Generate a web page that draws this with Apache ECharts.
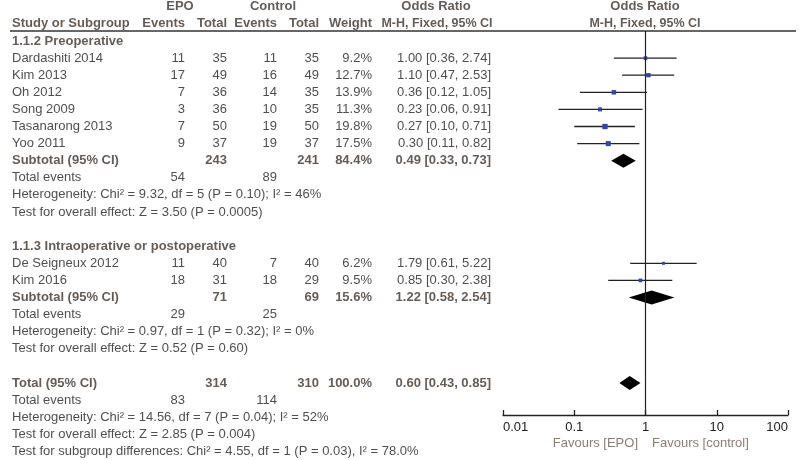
<!DOCTYPE html>
<html>
<head>
<meta charset="utf-8">
<script src="https://cdn.jsdelivr.net/npm/echarts@6/dist/echarts.min.js"></script>
<style>
html,body{margin:0;padding:0;background:#fff}
#main{width:800px;height:460px}
</style>
</head>
<body>
<div id="main"></div>
<script>
// study rows
var studies = ['Dardashiti 2014', 'Kim 2013', 'Oh 2012', 'Song 2009', 'Tasanarong 2013', 'Yoo 2011', 'De Seigneux 2012', 'Kim 2016'];
var studyRows = [1, 2, 3, 4, 5, 6, 13, 14];
var epoEvents = [11, 17, 7, 3, 7, 9, 11, 18];
var epoTotal = [35, 49, 36, 36, 50, 37, 40, 31];
var ctlEvents = [11, 16, 14, 10, 19, 19, 7, 18];
var ctlTotal = [35, 49, 35, 35, 50, 37, 40, 29];
var weights = [9.2, 12.7, 13.9, 11.3, 19.8, 17.5, 6.2, 9.5];
var orVal = [1.00, 1.10, 0.36, 0.23, 0.27, 0.30, 1.79, 0.85];
var ciLow = [0.36, 0.47, 0.12, 0.06, 0.10, 0.11, 0.61, 0.30];
var ciHigh = [2.74, 2.53, 1.05, 0.91, 0.71, 0.82, 5.22, 2.38];

// subgroup / overall rows
var sumNames = ['Subtotal (95% CI)', 'Subtotal (95% CI)', 'Total (95% CI)'];
var sumRows = [7, 15, 20];
var sumEpoTotal = [243, 71, 314];
var sumCtlTotal = [241, 69, 310];
var sumWeight = [84.4, 15.6, 100.0];
var sumOr = [0.49, 1.22, 0.60];
var sumLow = [0.33, 0.58, 0.43];
var sumHigh = [0.73, 2.54, 0.85];
var sumEpoEvents = [54, 29, 83];
var sumCtlEvents = [89, 25, 114];
var hetText = [
	'Heterogeneity: Chi\u00b2 = 9.32, df = 5 (P = 0.10); I\u00b2 = 46%',
	'Heterogeneity: Chi\u00b2 = 0.97, df = 1 (P = 0.32); I\u00b2 = 0%',
	'Heterogeneity: Chi\u00b2 = 14.56, df = 7 (P = 0.04); I\u00b2 = 52%'
];
var effectText = [
	'Test for overall effect: Z = 3.50 (P = 0.0005)',
	'Test for overall effect: Z = 0.52 (P = 0.60)',
	'Test for overall effect: Z = 2.85 (P = 0.004)'
];
var groupNames = ['1.1.2 Preoperative', '1.1.3 Intraoperative or postoperative'];
var groupRows = [0, 12];
var subgroupText = 'Test for subgroup differences: Chi\u00b2 = 4.55, df = 1 (P = 0.03), I\u00b2 = 78.0%';
var tickLabels = ['0.01', '0.1', '1', '10', '100'];

// layout
var ROW0 = 41, ROWH = 17.1, RULE_Y = 31, AXIS_Y = 415;
var col = {name: 12, epoEv: 185, epoTot: 227, ctlEv: 277, ctlTot: 319, weight: 372, orText: 491, orHead: 436, plotHead: 645};
var FONT = '"Liberation Sans", Arial, sans-serif';
var FS = 13;
var TXT = '#222', HEAD = '#3b3530', FAV = '#6e5e50', SQ = '#3344aa';

function rowVal(px) { return (px - ROW0) / ROWH; }
function fmt2(v) { return v.toFixed(2); }
function ciStr(o, l, h) { return fmt2(o) + ' [' + fmt2(l) + ', ' + fmt2(h) + ']'; }

var cells = [];
function cell(x, row, text, align, bold, color, size) {
	cells.push({
		value: [x, row],
		label: {
			formatter: String(text),
			align: align || 'left',
			fontWeight: bold ? 'bold' : 'normal',
			fontSize: size || FS,
			color: color || (bold ? HEAD : TXT)
		}
	});
}

// header
cell(180, -2, 'EPO', 'center', true);
cell(273, -2, 'Control', 'center', true);
cell(col.orHead, -2, 'Odds Ratio', 'center', true);
cell(col.plotHead, -2, 'Odds Ratio', 'center', true);
cell(col.name, -1, 'Study or Subgroup', 'left', true);
cell(col.epoEv, -1, 'Events', 'right', true);
cell(col.epoTot, -1, 'Total', 'right', true);
cell(col.ctlEv, -1, 'Events', 'right', true);
cell(col.ctlTot, -1, 'Total', 'right', true);
cell(col.weight, -1, 'Weight', 'right', true);
cell(col.orHead + 1, -1, 'M-H, Fixed, 95% CI', 'center', true, null, 12.5);
cell(col.plotHead, -1, 'M-H, Fixed, 95% CI', 'center', true, null, 12.5);

for (var g = 0; g < groupNames.length; g++) {
	cell(col.name, groupRows[g], groupNames[g], 'left', true);
}
for (var i = 0; i < studies.length; i++) {
	var r = studyRows[i];
	cell(col.name, r, studies[i]);
	cell(col.epoEv, r, epoEvents[i], 'right');
	cell(col.epoTot, r, epoTotal[i], 'right');
	cell(col.ctlEv, r, ctlEvents[i], 'right');
	cell(col.ctlTot, r, ctlTotal[i], 'right');
	cell(col.weight, r, weights[i].toFixed(1) + '%', 'right');
	cell(col.orText, r, ciStr(orVal[i], ciLow[i], ciHigh[i]), 'right');
}
for (var k = 0; k < sumNames.length; k++) {
	var s = sumRows[k];
	cell(col.name, s, sumNames[k], 'left', true);
	cell(col.epoTot, s, sumEpoTotal[k], 'right', true);
	cell(col.ctlTot, s, sumCtlTotal[k], 'right', true);
	cell(col.weight, s, sumWeight[k].toFixed(1) + '%', 'right', true);
	cell(col.orText, s, ciStr(sumOr[k], sumLow[k], sumHigh[k]), 'right', true);
	cell(col.name, s + 1, 'Total events');
	cell(col.epoEv, s + 1, sumEpoEvents[k], 'right');
	cell(col.ctlEv, s + 1, sumCtlEvents[k], 'right');
	cell(col.name, s + 2, hetText[k]);
	cell(col.name, s + 3, effectText[k]);
}
cell(col.name, 24, subgroupText);
cell(638, 23.55, 'Favours [EPO]', 'right', false, FAV);
cell(652, 23.55, 'Favours [control]', 'left', false, FAV);

var studyData = [];
for (var i = 0; i < studies.length; i++) {
	studyData.push([orVal[i], ciLow[i], ciHigh[i], studyRows[i], weights[i]]);
}
var sumData = [];
for (var k = 0; k < sumNames.length; k++) {
	sumData.push([sumOr[k], sumLow[k], sumHigh[k], sumRows[k]]);
}

var myChart = echarts.init(document.getElementById('main'));
var option = {
	animation: false,
	backgroundColor: '#fff',
	textStyle: {fontFamily: FONT},
	grid: [
		{left: 0, top: 0, width: 800, height: 460},
		{left: 503, right: 12, top: RULE_Y, height: AXIS_Y - RULE_Y}
	],
	xAxis: [
		{gridIndex: 0, type: 'value', min: 0, max: 800, show: false},
		{
			gridIndex: 1, type: 'log', logBase: 10, min: 0.01, max: 100, position: 'bottom',
			axisLine: {show: true, onZero: false, lineStyle: {color: '#222', width: 1.3}},
			axisTick: {show: true, inside: true, length: 5, lineStyle: {color: '#222', width: 1.3}},
			splitLine: {show: false},
			axisLabel: {
				color: TXT, fontSize: FS, fontFamily: FONT, margin: 6,
				alignMinLabel: 'left', alignMaxLabel: 'right',
				formatter: function (v) { return tickLabels[Math.round(Math.log10(v)) + 2]; }
			}
		}
	],
	yAxis: [
		{gridIndex: 0, type: 'value', inverse: true, min: rowVal(0), max: rowVal(460), show: false},
		{gridIndex: 1, type: 'value', inverse: true, min: rowVal(RULE_Y), max: rowVal(AXIS_Y), show: false}
	],
	graphic: [
		{type: 'line', shape: {x1: 10, y1: RULE_Y, x2: 796, y2: RULE_Y}, style: {stroke: '#333', lineWidth: 1.3}, silent: true}
	],
	series: [
		{
			type: 'scatter', xAxisIndex: 0, yAxisIndex: 0,
			symbolSize: 0, silent: true, clip: false,
			label: {show: true, position: [0, 0], verticalAlign: 'middle', fontSize: FS, fontFamily: FONT},
			data: cells
		},
		{
			type: 'custom', xAxisIndex: 1, yAxisIndex: 1, silent: true,
			encode: {x: [0, 1, 2], y: 3},
			renderItem: function (params, api) {
				var y = api.value(3);
				var pLo = api.coord([api.value(1), y]);
				var pHi = api.coord([api.value(2), y]);
				var pOr = api.coord([api.value(0), y]);
				var sz = Math.max(3, 1.2 * Math.sqrt(api.value(4)));
				return {type: 'group', children: [
					{type: 'line', shape: {x1: pLo[0], y1: pLo[1], x2: pHi[0], y2: pHi[1]}, style: {stroke: '#222', lineWidth: 1.3}},
					{type: 'rect', shape: {x: pOr[0] - sz / 2, y: pOr[1] - sz / 2, width: sz, height: sz}, style: {fill: SQ}}
				]};
			},
			markLine: {
				silent: true, symbol: 'none', label: {show: false},
				lineStyle: {color: '#222', width: 1.2, type: 'solid'},
				data: [{xAxis: 1}]
			},
			data: studyData
		},
		{
			type: 'custom', xAxisIndex: 1, yAxisIndex: 1, silent: true,
			encode: {x: [0, 1, 2], y: 3},
			renderItem: function (params, api) {
				var y = api.value(3);
				var pLo = api.coord([api.value(1), y]);
				var pHi = api.coord([api.value(2), y]);
				var pOr = api.coord([api.value(0), y]);
				var h = 7;
				return {
					type: 'polygon',
					shape: {points: [[pLo[0], pLo[1]], [pOr[0], pOr[1] - h], [pHi[0], pHi[1]], [pOr[0], pOr[1] + h]]},
					style: {fill: '#000'}
				};
			},
			data: sumData
		}
	]
};
myChart.setOption(option);
</script>
</body>
</html>
